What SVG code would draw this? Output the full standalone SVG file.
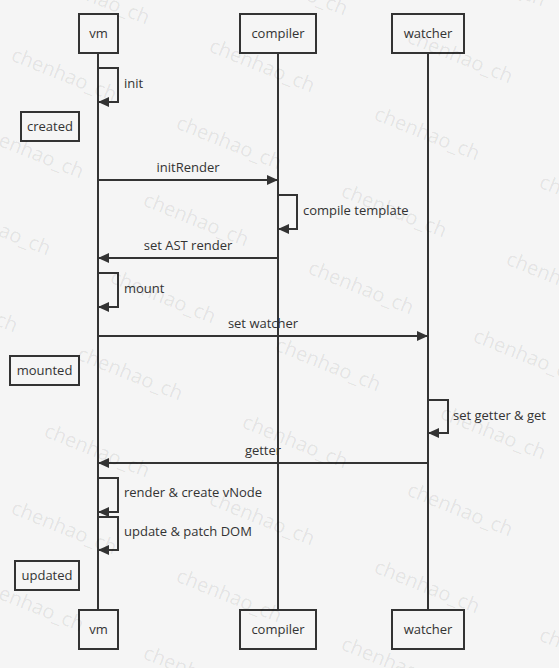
<svg xmlns="http://www.w3.org/2000/svg" width="559" height="668" viewBox="0 0 559 668">
<style>
.bg{fill:#f5f5f5}
.box{fill:#f5f5f5;stroke:#333;stroke-width:2}
.life{stroke:#333;stroke-width:2;fill:none}
.msg{stroke:#333;stroke-width:2;fill:none}
.t{font-family:"Open Sans","Noto Sans",sans-serif;font-size:13px;fill:#333}
.c{text-anchor:middle}
.wm{font-family:"Open Sans","Noto Sans",sans-serif;font-size:20px;fill:#000;fill-opacity:0.085}
</style>
<defs>
<marker id="ah" markerUnits="userSpaceOnUse" markerWidth="12" markerHeight="10" refX="10" refY="5" orient="auto">
<path d="M0,0 L11,5 L0,10 Z" fill="#333"/>
</marker>
</defs>
<rect class="bg" x="0" y="0" width="559" height="668"/>

<g id="lifelines">
<line class="life" x1="98" y1="53" x2="98" y2="610"/>
<line class="life" x1="278" y1="53" x2="278" y2="610"/>
<line class="life" x1="428" y1="53" x2="428" y2="610"/>
</g>

<g id="vm-top"><rect class="box" x="79" y="14" width="39" height="39"/><text class="t c" x="98.5" y="38">vm</text></g>
<g id="compiler-top"><rect class="box" x="240" y="14" width="76" height="39"/><text class="t c" x="278" y="38">compiler</text></g>
<g id="watcher-top"><rect class="box" x="392" y="14" width="72" height="39"/><text class="t c" x="428" y="38">watcher</text></g>
<g id="vm-bottom"><rect class="box" x="79" y="610" width="39" height="39"/><text class="t c" x="98.5" y="634">vm</text></g>
<g id="compiler-bottom"><rect class="box" x="240" y="610" width="76" height="39"/><text class="t c" x="278" y="634">compiler</text></g>
<g id="watcher-bottom"><rect class="box" x="392" y="610" width="72" height="39"/><text class="t c" x="428" y="634">watcher</text></g>

<g id="created"><rect class="box" x="21" y="112" width="58" height="29"/><text class="t c" x="50" y="131">created</text></g>
<g id="mounted"><rect class="box" x="10" y="356" width="69" height="29"/><text class="t c" x="44.5" y="375">mounted</text></g>
<g id="updated"><rect class="box" x="15" y="561" width="64" height="29"/><text class="t c" x="47" y="580">updated</text></g>

<g id="connectors">
<path class="msg" d="M98,68 H118 V102 H99" marker-end="url(#ah)"/>
<text class="t" x="124" y="88">init</text>
<path class="msg" d="M98,180 H277" marker-end="url(#ah)"/>
<text class="t c" x="188" y="172">initRender</text>
<path class="msg" d="M278,195 H297 V229 H279" marker-end="url(#ah)"/>
<text class="t" x="303" y="215">compile template</text>
<path class="msg" d="M278,258 H99" marker-end="url(#ah)"/>
<text class="t c" x="188" y="250">set AST render</text>
<path class="msg" d="M98,273 H118 V307 H99" marker-end="url(#ah)"/>
<text class="t" x="124" y="293">mount</text>
<path class="msg" d="M98,336 H427" marker-end="url(#ah)"/>
<text class="t c" x="263" y="328">set watcher</text>
<path class="msg" d="M428,400 H448 V433 H429" marker-end="url(#ah)"/>
<text class="t" x="453" y="420">set getter &amp; get</text>
<path class="msg" d="M428,463 H99" marker-end="url(#ah)"/>
<text class="t c" x="263" y="455">getter</text>
<path class="msg" d="M98,478 H118 V512 H99" marker-end="url(#ah)"/>
<text class="t" x="124" y="497">render &amp; create vNode</text>
<path class="msg" d="M98,517 H118 V550 H99" marker-end="url(#ah)"/>
<text class="t" x="124" y="536">update &amp; patch DOM</text>
</g>

<g id="watermark">
<text class="wm" transform="translate(43,-17) rotate(22)">chenhao_ch</text>
<text class="wm" transform="translate(241,-26) rotate(22)">chenhao_ch</text>
<text class="wm" transform="translate(439,-35) rotate(22)">chenhao_ch</text>
<text class="wm" transform="translate(10,60) rotate(22)">chenhao_ch</text>
<text class="wm" transform="translate(208,51) rotate(22)">chenhao_ch</text>
<text class="wm" transform="translate(406,42) rotate(22)">chenhao_ch</text>
<text class="wm" transform="translate(-23,137) rotate(22)">chenhao_ch</text>
<text class="wm" transform="translate(175,128) rotate(22)">chenhao_ch</text>
<text class="wm" transform="translate(373,119) rotate(22)">chenhao_ch</text>
<text class="wm" transform="translate(-56,214) rotate(22)">chenhao_ch</text>
<text class="wm" transform="translate(142,205) rotate(22)">chenhao_ch</text>
<text class="wm" transform="translate(340,196) rotate(22)">chenhao_ch</text>
<text class="wm" transform="translate(538,187) rotate(22)">chenhao_ch</text>
<text class="wm" transform="translate(-89,291) rotate(22)">chenhao_ch</text>
<text class="wm" transform="translate(109,282) rotate(22)">chenhao_ch</text>
<text class="wm" transform="translate(307,273) rotate(22)">chenhao_ch</text>
<text class="wm" transform="translate(505,264) rotate(22)">chenhao_ch</text>
<text class="wm" transform="translate(76,359) rotate(22)">chenhao_ch</text>
<text class="wm" transform="translate(274,350) rotate(22)">chenhao_ch</text>
<text class="wm" transform="translate(472,341) rotate(22)">chenhao_ch</text>
<text class="wm" transform="translate(43,436) rotate(22)">chenhao_ch</text>
<text class="wm" transform="translate(241,427) rotate(22)">chenhao_ch</text>
<text class="wm" transform="translate(439,418) rotate(22)">chenhao_ch</text>
<text class="wm" transform="translate(10,513) rotate(22)">chenhao_ch</text>
<text class="wm" transform="translate(208,504) rotate(22)">chenhao_ch</text>
<text class="wm" transform="translate(406,495) rotate(22)">chenhao_ch</text>
<text class="wm" transform="translate(-23,590) rotate(22)">chenhao_ch</text>
<text class="wm" transform="translate(175,581) rotate(22)">chenhao_ch</text>
<text class="wm" transform="translate(373,572) rotate(22)">chenhao_ch</text>
<text class="wm" transform="translate(-56,667) rotate(22)">chenhao_ch</text>
<text class="wm" transform="translate(142,658) rotate(22)">chenhao_ch</text>
<text class="wm" transform="translate(340,649) rotate(22)">chenhao_ch</text>
<text class="wm" transform="translate(538,640) rotate(22)">chenhao_ch</text>
</g>
</svg>
